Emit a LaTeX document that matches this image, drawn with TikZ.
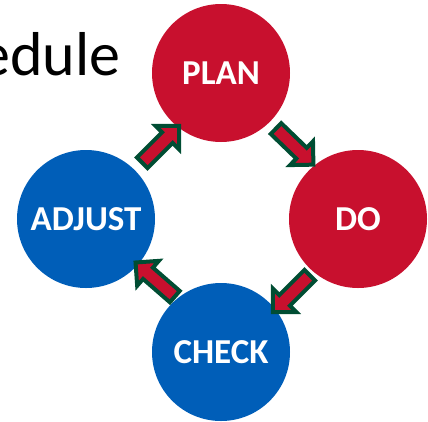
\documentclass[tikz,border=0pt]{standalone}
\usepackage{fontspec}
\setmainfont{Carlito}
\usetikzlibrary{shapes.arrows,calc}
\definecolor{pdred}{RGB}{200,16,46}
\definecolor{pdblue}{RGB}{0,94,184}
\definecolor{pdgreen}{RGB}{0,77,51}
\begin{document}
\begin{tikzpicture}[x=1pt,y=-1pt,
  stage/.style={circle,minimum size=138pt,inner sep=0pt,text=white,
    font=\fontsize{35}{35}\selectfont\bfseries},
  redstage/.style={stage,fill=pdred},
  bluestage/.style={stage,fill=pdblue},
  blockarrow/.style={single arrow,fill=pdred,draw=pdgreen,line width=4pt,
    inner xsep=0pt,inner ysep=5.5pt,text height=0pt,text depth=0pt,
    minimum height=52pt,single arrow head extend=9pt,single arrow tip angle=90}]
\useasboundingbox (0,0) rectangle (428,421);
\node[anchor=base east,font=\fontsize{62}{62}\selectfont] (title) at (124,75) {edule};
\node[redstage] (plan) at (221,73) {PLAN};
\node[redstage] (do) at (358,219) {DO};
\node[bluestage] (check) at (221,352) {CHECK};
\node[bluestage] (adjust) at (86,219) {ADJUST};
\node[blockarrow,rotate=45] (a1) at (158,147) {};
\node[blockarrow,rotate=-44] (a2) at (292,144) {};
\node[blockarrow,rotate=-135] (a3) at (294,291) {};
\node[blockarrow,rotate=139] (a4) at (158,282) {};
\end{tikzpicture}
\end{document}
